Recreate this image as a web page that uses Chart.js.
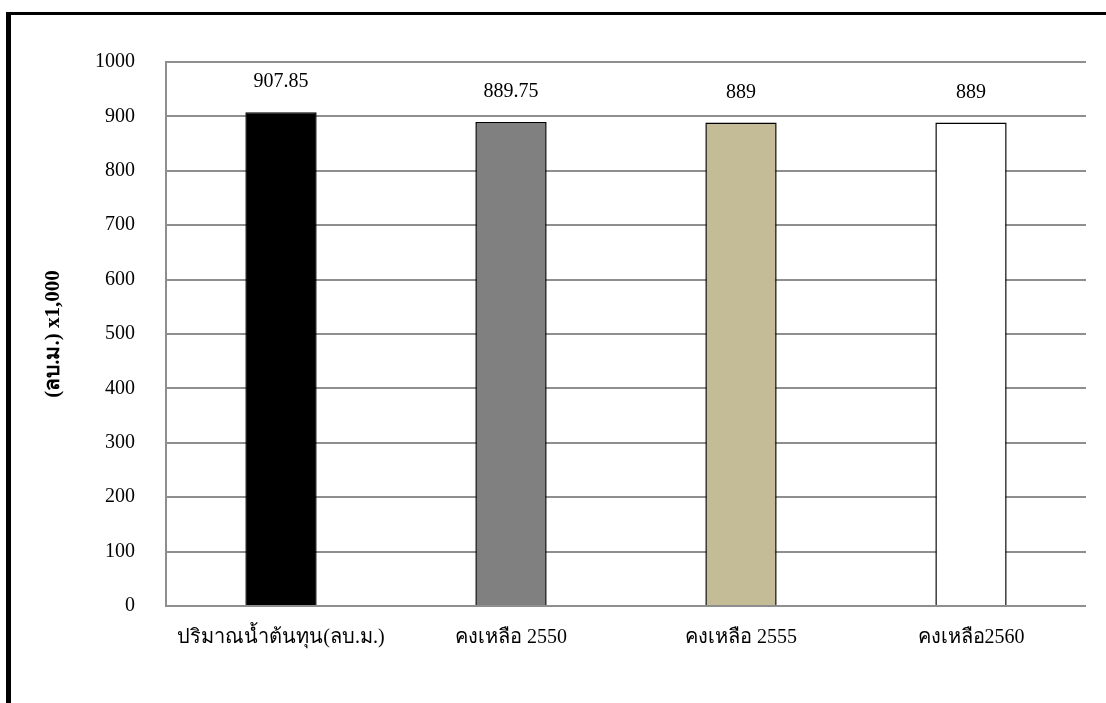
<!DOCTYPE html>
<html>
<head>
<meta charset="utf-8">
<script src="https://cdn.jsdelivr.net/npm/chart.js@4.4.1/dist/chart.umd.min.js"></script>
<style>
  html, body { margin: 0; padding: 0; background: #fff; }
  .wrap { position: relative; width: 1106px; height: 703px; overflow: hidden; }
  .frame {
    position: absolute; left: 6px; top: 12px; width: 1200px; height: 800px;
    border-left: 5px solid #000; border-top: 3px solid #000;
  }
  canvas { position: absolute; left: 0; top: 0; }
</style>
</head>
<body>
<div class="wrap">
  <div class="frame"></div>
  <canvas id="chart" width="1106" height="703"></canvas>
</div>
<script>
const categories = ['ปริมาณน้ำต้นทุน(ลบ.ม.)', 'คงเหลือ 2550', 'คงเหลือ 2555', 'คงเหลือ2560'];
const volumes = [907.85, 889.75, 889, 889];
const barColors = ['#000000', '#808080', '#c4bc97', '#ffffff'];
const yTicks = [0, 100, 200, 300, 400, 500, 600, 700, 800, 900, 1000];

const serif = '"Liberation Serif", "Times New Roman", serif';

// value text above each bar
const valueLabels = {
  id: 'valueLabels',
  afterDatasetsDraw(chart) {
    const ctx = chart.ctx;
    const meta = chart.getDatasetMeta(0);
    ctx.save();
    ctx.font = '20px ' + serif;
    ctx.fillStyle = '#000';
    ctx.textAlign = 'center';
    ctx.textBaseline = 'middle';
    meta.data.forEach((bar, i) => {
      ctx.fillText(String(volumes[i]), bar.x, bar.y - 30);
    });
    ctx.restore();
  }
};

new Chart(document.getElementById('chart'), {
  type: 'bar',
  data: {
    labels: categories,
    datasets: [{
      data: volumes,
      backgroundColor: barColors,
      borderColor: '#000',
      borderWidth: 1.5,
      categoryPercentage: 1,
      barPercentage: 0.31
    }]
  },
  options: {
    responsive: false,
    animation: false,
    events: [],
    layout: { padding: { left: 38, right: 20, top: 62, bottom: 0 } },
    plugins: {
      legend: { display: false },
      tooltip: { enabled: false }
    },
    scales: {
      x: {
        grid: { display: false },
        border: { display: false },
        ticks: {
          color: '#000',
          font: { family: serif, size: 20 },
          padding: 12,
          maxRotation: 0
        },
        afterFit(scale) { scale.height = 97; }
      },
      y: {
        min: 0,
        max: 1000,
        afterBuildTicks(scale) { scale.ticks = yTicks.map(v => ({ value: v })); },
        grid: { color: '#8e8e8e', lineWidth: 2, drawTicks: false },
        border: { display: true, color: '#8e8e8e', width: 2 },
        ticks: {
          color: '#000',
          font: { family: serif, size: 20 },
          padding: 31,
          callback: v => String(v)
        },
        title: {
          display: true,
          text: '(ลบ.ม.) x1,000',
          color: '#000',
          font: { family: serif, size: 21, weight: 'bold' },
          padding: { top: 3, bottom: 0 }
        },
        afterFit(scale) { scale.width = 128; }
      }
    }
  },
  plugins: [valueLabels]
});
</script>
</body>
</html>
